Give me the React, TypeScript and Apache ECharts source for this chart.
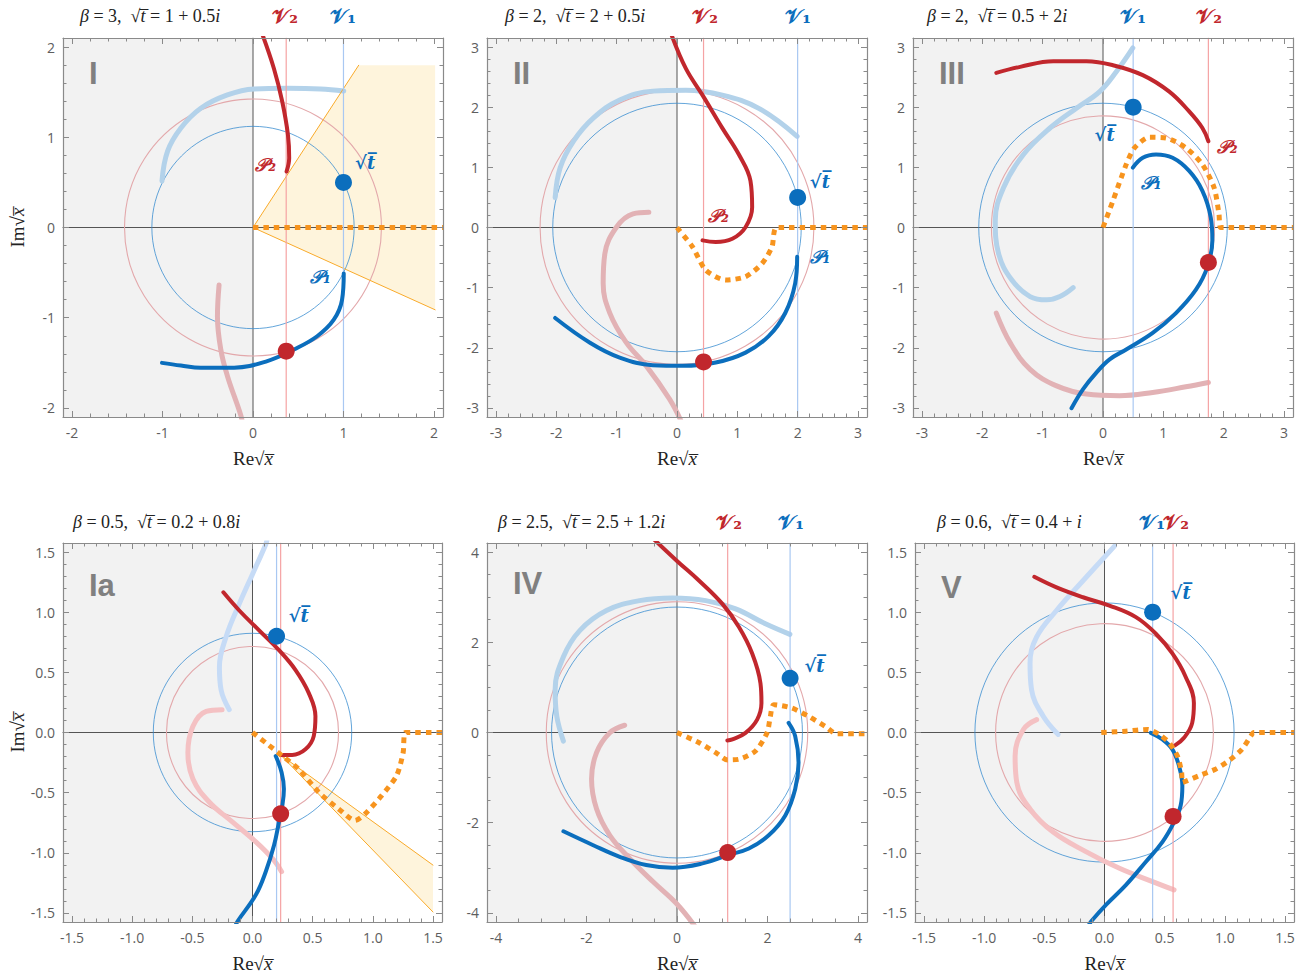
import React, { useEffect, useRef } from "react";
import * as echarts from "echarts";

// ---------------- Panel I ----------------
const I_range = 2.1;
const I_sqrtT = [1, 0.5];
const I_v1 = 1;
const I_v2 = 0.367;
const I_redDot = [0.367, -1.37];
const I_blueR = 1.118;
const I_redR = 1.42;
const I_P2 = [[0.1, 2.15], [0.231, 1.762], [0.323, 1.396], [0.386, 1.029], [0.4, 0.77], [0.371, 0.62]];
const I_P1 = [[1.003, -0.509], [0.984, -0.802], [0.893, -1.022], [0.709, -1.205], [0.452, -1.352], [0.158, -1.48], [-0.209, -1.553], [-0.577, -1.555], [-0.797, -1.53], [-1.006, -1.5]];
const I_fadeBlue = [[-1.006, 0.516], [-0.944, 0.846], [-0.797, 1.103], [-0.577, 1.322], [-0.283, 1.469], [0.011, 1.535], [0.378, 1.542], [0.746, 1.535], [1.003, 1.513]];
const I_fadeRed = [[-0.375, -0.637], [-0.393, -0.985], [-0.356, -1.352], [-0.283, -1.645], [-0.136, -2.077], [-0.11, -2.2]];
const I_orange = [[0, 0], [2.1, 0]];
const I_wedge = [[0, 0], [1.168, 1.798], [2.013, 1.798], [2.013, -0.912]];

// ---------------- Panel II ----------------
const II_range = 3.15;
const II_sqrtT = [2, 0.5];
const II_v1 = 2;
const II_v2 = 0.44;
const II_redDot = [0.44, -2.234];
const II_blueR = 2.06;
const II_redR = 2.27;
const II_P2 = [[-0.09, 3.2], [0.148, 2.64], [0.423, 2.2], [0.752, 1.652], [1.026, 1.213], [1.218, 0.774], [1.246, 0.335], [1.136, 0.005], [0.917, -0.187], [0.642, -0.241], [0.423, -0.214]];
const II_P1 = [[1.992, -0.488], [1.959, -0.928], [1.795, -1.421], [1.52, -1.806], [1.136, -2.08], [0.642, -2.245], [0.093, -2.3], [-0.401, -2.289], [-0.95, -2.162], [-1.443, -1.915], [-2.02, -1.504]];
const II_fadeBlue = [[-2.02, 0.499], [-1.937, 0.993], [-1.718, 1.432], [-1.389, 1.817], [-0.95, 2.119], [-0.401, 2.267], [0.148, 2.283], [0.752, 2.201], [1.356, 1.981], [1.992, 1.515]];
const II_fadeRed = [[-0.467, 0.252], [-0.73, 0.225], [-1.004, 0.005], [-1.196, -0.434], [-1.224, -0.928], [-1.114, -1.422], [-0.84, -1.915], [-0.51, -2.3], [-0.126, -2.849], [0.06, -3.2]];
const II_orange = [[0, 0], [0.258, -0.324], [0.477, -0.708], [0.807, -0.873], [1.136, -0.818], [1.411, -0.598], [1.575, -0.324], [1.658, 0], [3.15, 0]];

// ---------------- Panel III ----------------
const III_range = 3.15;
const III_sqrtT = [0.5, 2];
const III_v1 = 0.5;
const III_v2 = 1.747;
const III_redDot = [1.747, -0.582];
const III_blueR = 2.06;
const III_redR = 1.85;
const III_P2 = [[-1.769, 2.571], [-1.374, 2.67], [-0.824, 2.764], [-0.275, 2.764], [0.165, 2.698], [0.659, 2.533], [1.099, 2.258], [1.429, 1.929], [1.648, 1.654], [1.747, 1.434]];
const III_P1 = [[0.495, 0.995], [0.659, 1.159], [0.879, 1.214], [1.154, 1.159], [1.429, 0.94], [1.648, 0.61], [1.786, 0.17], [1.813, -0.214], [1.731, -0.654], [1.538, -1.038], [1.209, -1.423], [0.824, -1.753], [0.385, -2.027], [0.11, -2.192], [-0.11, -2.412], [-0.33, -2.687], [-0.522, -3.005]];
const III_fadeBlue = [[0.495, 2.984], [0.22, 2.588], [-0.055, 2.258], [-0.44, 1.984], [-0.879, 1.654], [-1.319, 1.214], [-1.648, 0.665], [-1.786, 0.115], [-1.731, -0.434], [-1.511, -0.874], [-1.209, -1.148], [-0.934, -1.203], [-0.714, -1.148], [-0.495, -1.0]];
const III_fadeRed = [[-1.769, -1.423], [-1.538, -1.918], [-1.209, -2.357], [-0.769, -2.632], [-0.275, -2.769], [0.275, -2.797], [0.824, -2.742], [1.374, -2.648], [1.747, -2.577]];
const III_orange = [[0, 0], [0.165, 0.445], [0.385, 1.049], [0.522, 1.324], [0.769, 1.5], [1.044, 1.489], [1.374, 1.324], [1.648, 1.049], [1.841, 0.665], [1.923, 0.225], [1.951, 0], [3.15, 0]];

// ---------------- Panel Ia ----------------
const Ia_range = 1.575;
const Ia_sqrtT = [0.2, 0.8];
const Ia_v1 = 0.2;
const Ia_v2 = 0.234;
const Ia_redDot = [0.234, -0.676];
const Ia_blueR = 0.8246;
const Ia_redR = 0.715;
const Ia_P2 = [[-0.242, 1.165], [-0.11, 1.014], [0.055, 0.849], [0.22, 0.684], [0.358, 0.519], [0.468, 0.327], [0.523, 0.135], [0.509, -0.03], [0.44, -0.14], [0.33, -0.187], [0.234, -0.187]];
const Ia_P1 = [[0.193, -0.195], [0.242, -0.332], [0.261, -0.47], [0.248, -0.607], [0.22, -0.745], [0.179, -0.937], [0.11, -1.157], [0.028, -1.349], [-0.124, -1.569], [-0.14, -1.6]];
const Ia_fadeBlue = [[-0.193, 0.19], [-0.261, 0.354], [-0.275, 0.547], [-0.22, 0.794], [-0.11, 1.069], [0, 1.316], [0.11, 1.563], [0.12, 1.6]];
const Ia_fadeRed = [[-0.253, 0.19], [-0.385, 0.176], [-0.495, 0.052], [-0.537, -0.168], [-0.495, -0.387], [-0.358, -0.58], [-0.165, -0.745], [0.028, -0.909], [0.165, -1.047], [0.242, -1.157]];
const Ia_orange = [[0, 0], [0.11, -0.085], [0.248, -0.195], [0.385, -0.305], [0.551, -0.497], [0.716, -0.635], [0.853, -0.731], [0.936, -0.676], [1.073, -0.525], [1.197, -0.36], [1.252, -0.168], [1.272, 0], [1.575, 0]];
const Ia_wedge = [[0.234, -0.187], [1.5, -1.102], [1.5, -1.492]];

// ---------------- Panel IV ----------------
const IV_range = 4.2;
const IV_sqrtT = [2.5, 1.2];
const IV_v1 = 2.5;
const IV_v2 = 1.12;
const IV_redDot = [1.12, -2.66];
const IV_blueR = 2.773;
const IV_redR = 2.89;
const IV_P2 = [[-0.55, 4.32], [0, 3.802], [0.49, 3.363], [1.003, 2.85], [1.369, 2.337], [1.662, 1.751], [1.845, 1.092], [1.867, 0.652], [1.772, 0.286], [1.515, -0.007], [1.223, -0.154], [1.113, -0.176]];
const IV_P1 = [[2.467, 0.212], [2.613, -0.081], [2.687, -0.667], [2.613, -1.253], [2.394, -1.839], [2.028, -2.278], [1.589, -2.571], [1.12, -2.718], [0.564, -2.901], [-0.095, -2.996], [-0.681, -2.938], [-1.266, -2.754], [-1.852, -2.498], [-2.511, -2.19]];
const IV_fadeBlue = [[-2.511, -0.19], [-2.657, 0.359], [-2.694, 0.945], [-2.511, 1.678], [-2.145, 2.264], [-1.559, 2.703], [-0.827, 2.923], [-0.095, 2.982], [0.637, 2.923], [1.296, 2.74], [1.955, 2.41], [2.496, 2.176]];
const IV_fadeRed = [[-1.157, 0.161], [-1.486, -0.007], [-1.779, -0.447], [-1.889, -1.033], [-1.779, -1.692], [-1.486, -2.278], [-1.047, -2.791], [-0.534, -3.304], [-0.022, -3.78], [0.4, -4.3]];
const IV_orange = [[0, 0], [0.49, -0.227], [0.857, -0.447], [1.12, -0.608], [1.369, -0.593], [1.735, -0.41], [1.991, -0.007], [2.064, 0.359], [2.138, 0.615], [2.54, 0.542], [2.906, 0.359], [3.272, 0.139], [3.529, -0.029], [4.2, -0.029]];

// ---------------- Panel V ----------------
const V_range = 1.575;
const V_sqrtT = [0.4, 1.0];
const V_v1 = 0.4;
const V_v2 = 0.57;
const V_redDot = [0.57, -0.698];
const V_blueR = 1.077;
const V_redR = 0.905;
const V_P2 = [[-0.584, 1.294], [-0.399, 1.206], [-0.179, 1.124], [0.041, 1.055], [0.261, 0.959], [0.427, 0.821], [0.564, 0.657], [0.674, 0.464], [0.743, 0.245], [0.729, 0.08], [0.661, -0.044], [0.586, -0.107]];
const V_P1 = [[0.385, -0.003], [0.482, -0.058], [0.564, -0.14], [0.619, -0.277], [0.647, -0.442], [0.633, -0.607], [0.578, -0.745], [0.482, -0.909], [0.344, -1.074], [0.179, -1.266], [0.014, -1.431], [-0.11, -1.569], [-0.13, -1.6]];
const V_fadeBlue = [[-0.385, -0.016], [-0.509, 0.135], [-0.606, 0.354], [-0.619, 0.574], [-0.564, 0.794], [-0.399, 1.014], [-0.179, 1.261], [0.083, 1.549]];
const V_fadeRed = [[-0.564, 0.107], [-0.674, 0.025], [-0.743, -0.195], [-0.729, -0.415], [-0.619, -0.635], [-0.427, -0.827], [-0.151, -0.992], [0.124, -1.129], [0.399, -1.239], [0.578, -1.308]];
const V_orange = [[-0.027, 0], [0.179, 0.011], [0.358, 0.025], [0.454, -0.016], [0.537, -0.085], [0.606, -0.195], [0.641, -0.332], [0.647, -0.415], [0.784, -0.36], [0.922, -0.305], [1.032, -0.236], [1.142, -0.14], [1.225, -0.016], [1.239, 0], [1.575, 0]];

// ---------------- styling ----------------
const RED = "#c1272d";
const BLUE = "#0b6ebd";
const FADE_BLUE = "#b3d2ea";
const FADE_BLUE_L = "#c6dbf6";
const FADE_RED = "#e2b2b5";
const FADE_RED_L = "#f4c1c3";
const CIRC_RED = "#e3a8ab";
const CIRC_BLUE = "#3b8ed0";
const V1C = "#a9c8f2";
const V2C = "#f5a3a4";
const ORANGE = "#f7941e";
const WEDGE_FILL = "#fef4dc";
const WEDGE_LINE = "#f9aa2a";
const BG = "#f2f2f2";
const FRAME = "#8a8a8a";
const SERIF = "'Liberation Serif', 'DejaVu Serif', serif";
const SANS = "'Open Sans', 'DejaVu Sans', sans-serif";
const SCRIPT = "'DejaVu Serif', 'Liberation Serif', serif";

const ROW1 = 38;
const ROW2 = 543;

const panels: any[] = [
  {
    roman: "I", range: I_range, minor: 5, dec: 0, grid: { left: 63, top: ROW1, width: 380, height: 379 },
    blueR: I_blueR, redR: I_redR, sqrtT: I_sqrtT, v1: I_v1, v2: I_v2, redDot: I_redDot,
    P1: I_P1, P2: I_P2, fadeBlue: I_fadeBlue, fadeRed: I_fadeRed, orange: I_orange, wedge: I_wedge, light: false,
    labels: [
      { t: "√t̅", p: [1.24, 0.72], c: BLUE },
      { t: "𝒫₂", p: [0.14, 0.7], c: RED },
      { t: "𝒫₁", p: [0.746, -0.546], c: BLUE },
    ],
    title: "{i|β} = 3,  √{i|t̅} = 1 + 0.5{i|i}", titleX: 80, titleY: 16,
    vLabels: [{ t: "𝒱₂", x: 285, c: RED }, { t: "𝒱₁", x: 343, c: BLUE }], yName: true, romanY: 73,
  },
  {
    roman: "II", range: II_range, minor: 5, dec: 0, grid: { left: 487, top: ROW1, width: 380, height: 379 },
    blueR: II_blueR, redR: II_redR, sqrtT: II_sqrtT, v1: II_v1, v2: II_v2, redDot: II_redDot,
    P1: II_P1, P2: II_P2, fadeBlue: II_fadeBlue, fadeRed: II_fadeRed, orange: II_orange, wedge: null, light: false,
    labels: [
      { t: "√t̅", p: [2.37, 0.77], c: BLUE },
      { t: "𝒫₂", p: [0.686, 0.198], c: RED },
      { t: "𝒫₁", p: [2.37, -0.49], c: BLUE },
    ],
    title: "{i|β} = 2,  √{i|t̅} = 2 + 0.5{i|i}", titleX: 505, titleY: 16,
    vLabels: [{ t: "𝒱₂", x: 705, c: RED }, { t: "𝒱₁", x: 798, c: BLUE }], yName: false, romanY: 73,
  },
  {
    roman: "III", range: III_range, minor: 5, dec: 0, grid: { left: 913, top: ROW1, width: 380, height: 379 },
    blueR: III_blueR, redR: III_redR, sqrtT: III_sqrtT, v1: III_v1, v2: III_v2, redDot: III_redDot,
    P1: III_P1, P2: III_P2, fadeBlue: III_fadeBlue, fadeRed: III_fadeRed, orange: III_orange, wedge: null, light: false,
    labels: [
      { t: "√t̅", p: [0.027, 1.544], c: BLUE },
      { t: "𝒫₂", p: [2.06, 1.35], c: RED },
      { t: "𝒫₁", p: [0.797, 0.747], c: BLUE },
    ],
    title: "{i|β} = 2,  √{i|t̅} = 0.5 + 2{i|i}", titleX: 927, titleY: 16,
    vLabels: [{ t: "𝒱₁", x: 1133, c: BLUE }, { t: "𝒱₂", x: 1209, c: RED }], yName: false, romanY: 73,
  },
  {
    roman: "Ia", range: Ia_range, minor: 5, dec: 1, grid: { left: 63, top: ROW2, width: 379, height: 379 },
    blueR: Ia_blueR, redR: Ia_redR, sqrtT: Ia_sqrtT, v1: Ia_v1, v2: Ia_v2, redDot: Ia_redDot,
    P1: Ia_P1, P2: Ia_P2, fadeBlue: Ia_fadeBlue, fadeRed: Ia_fadeRed, orange: Ia_orange, wedge: Ia_wedge, light: true,
    labels: [{ t: "√t̅", p: [0.385, 0.972], c: BLUE }],
    title: "{i|β} = 0.5,  √{i|t̅} = 0.2 + 0.8{i|i}", titleX: 73, titleY: 522,
    vLabels: [], yName: true, romanY: 585,
  },
  {
    roman: "IV", range: IV_range, minor: 4, dec: 0, grid: { left: 487, top: ROW2, width: 380, height: 379 },
    blueR: IV_blueR, redR: IV_redR, sqrtT: IV_sqrtT, v1: IV_v1, v2: IV_v2, redDot: IV_redDot,
    P1: IV_P1, P2: IV_P2, fadeBlue: IV_fadeBlue, fadeRed: IV_fadeRed, orange: IV_orange, wedge: null, light: false,
    labels: [{ t: "√t̅", p: [3.04, 1.49], c: BLUE }],
    title: "{i|β} = 2.5,  √{i|t̅} = 2.5 + 1.2{i|i}", titleX: 498, titleY: 522,
    vLabels: [{ t: "𝒱₂", x: 729, c: RED }, { t: "𝒱₁", x: 791, c: BLUE }], yName: false, romanY: 583,
  },
  {
    roman: "V", range: V_range, minor: 5, dec: 1, grid: { left: 915, top: ROW2, width: 379, height: 379 },
    blueR: V_blueR, redR: V_redR, sqrtT: V_sqrtT, v1: V_v1, v2: V_v2, redDot: V_redDot,
    P1: V_P1, P2: V_P2, fadeBlue: V_fadeBlue, fadeRed: V_fadeRed, orange: V_orange, wedge: null, light: true,
    labels: [{ t: "√t̅", p: [0.633, 1.165], c: BLUE }],
    title: "{i|β} = 0.6,  √{i|t̅} = 0.4 + {i|i}", titleX: 937, titleY: 522,
    vLabels: [{ t: "𝒱₁", x: 1152, c: BLUE }, { t: "𝒱₂", x: 1176, c: RED }], yName: false, romanY: 587,
  },
];

function axisBase(p: any, gi: number, isX: boolean, main: boolean, showName: boolean) {
  const R = p.range;
  const a: any = {
    type: "value",
    gridIndex: gi,
    min: -R,
    max: R,
    z: 20,
    position: isX ? (main ? "bottom" : "top") : main ? "left" : "right",
    axisLine: { show: true, onZero: false, lineStyle: { color: FRAME, width: 1.2 } },
    axisTick: { show: true, inside: true, length: 6, lineStyle: { color: FRAME, width: 1 } },
    minorTick: { show: true, splitNumber: p.minor, length: 3.5, lineStyle: { color: FRAME, width: 1 } },
    splitLine: { show: false },
    minorSplitLine: { show: false },
    axisLabel: {
      show: main,
      color: "#5e5e5e",
      fontSize: 14,
      fontFamily: SANS,
      margin: 8,
      showMinLabel: false,
      showMaxLabel: false,
      formatter: (v: number) => (p.dec ? v.toFixed(p.dec) : String(Math.round(v * 1000) / 1000)),
    },
  };
  if (main && showName) {
    a.name = isX ? "Re√{i|x̅}" : "Im√{i|x̅}";
    a.nameLocation = "middle";
    a.nameGap = isX ? 32 : 36;
    a.nameTextStyle = {
      fontFamily: SERIF,
      fontSize: 19,
      color: "#222",
      rich: { i: { fontFamily: SERIF, fontSize: 19, fontStyle: "italic", color: "#222" } },
    };
  }
  return a;
}

function buildOption() {
  const grid: any[] = [];
  const xAxis: any[] = [];
  const yAxis: any[] = [];
  const series: any[] = [];
  const graphic: any[] = [];

  panels.forEach((p, gi) => {
    const R = p.range;
    grid.push({ ...p.grid, containLabel: false });
    xAxis.push(axisBase(p, gi, true, true, true));
    xAxis.push(axisBase(p, gi, true, false, false));
    yAxis.push(axisBase(p, gi, false, true, p.yName));
    yAxis.push(axisBase(p, gi, false, false, false));
    const ax = { xAxisIndex: gi * 2, yAxisIndex: gi * 2 };
    const lineS = (data: any[], color: string, width: number, z: number, smooth: any = 0.4, type: any = "solid") => ({
      type: "line",
      ...ax,
      data,
      z,
      smooth,
      showSymbol: false,
      symbol: "none",
      silent: true,
      clip: true,
      lineStyle: { color, width, type, cap: type === "solid" ? "round" : "butt", join: "round", opacity: 1 },
    });

    // gray left half plane
    series.push({
      type: "custom",
      ...ax,
      z: 1,
      silent: true,
      data: [[-R, -R, 0, R]],
      renderItem: (_: any, api: any) => {
        const a = api.coord([api.value(0), api.value(3)]);
        const b = api.coord([api.value(2), api.value(1)]);
        return { type: "rect", shape: { x: a[0], y: a[1], width: b[0] - a[0], height: b[1] - a[1] }, style: { fill: BG } };
      },
    });

    // orange wedge
    if (p.wedge) {
      const w = p.wedge;
      series.push({
        type: "custom",
        ...ax,
        z: 2,
        silent: true,
        data: [[w[0][0], w[0][1]]],
        renderItem: (_: any, api: any) => ({
          type: "polygon",
          shape: { points: w.map((q: number[]) => api.coord(q)) },
          style: { fill: WEDGE_FILL },
        }),
      });
      series.push(lineS([w[1], w[0], w[w.length - 1]], WEDGE_LINE, 1, 6, false));
    }

    // zero axes
    series.push(lineS([[0, -R], [0, R]], "#555", 1, 3, false));
    series.push(lineS([[-R, 0], [R, 0]], "#555", 1, 3, false));

    // circles
    const circ = (r: number, color: string, lw: number) => ({
      type: "custom",
      ...ax,
      z: 4,
      silent: true,
      data: [[0, 0, r]],
      renderItem: (_: any, api: any) => {
        const c = api.coord([api.value(0), api.value(1)]);
        const e = api.coord([api.value(0) + api.value(2), api.value(1)]);
        return { type: "circle", shape: { cx: c[0], cy: c[1], r: e[0] - c[0] }, style: { fill: "none", stroke: color, lineWidth: lw } };
      },
    });
    series.push(circ(p.redR, CIRC_RED, 1.1));
    series.push(circ(p.blueR, CIRC_BLUE, 0.8));

    // faded branches
    series.push(lineS(p.fadeRed, p.light ? FADE_RED_L : FADE_RED, 5, 5));
    series.push(lineS(p.fadeBlue, p.light ? FADE_BLUE_L : FADE_BLUE, 5, 5));

    // vertical lines
    series.push(lineS([[p.v1, -R], [p.v1, R]], V1C, 1.2, 6, false));
    series.push(lineS([[p.v2, -R], [p.v2, R]], V2C, 1.2, 6, false));

    // thick paths
    series.push(lineS(p.P1, BLUE, 4, 7));
    series.push(lineS(p.P2, RED, 4, 7));

    // orange dashed contour
    series.push(lineS(p.orange, ORANGE, 5, 8, 0.25, [5.5, 5]));

    // dots
    series.push({ type: "scatter", ...ax, z: 9, silent: true, symbolSize: 17, itemStyle: { color: BLUE, opacity: 1 }, data: [p.sqrtT] });
    series.push({ type: "scatter", ...ax, z: 9, silent: true, symbolSize: 17, itemStyle: { color: RED, opacity: 1 }, data: [p.redDot] });

    // in-plot labels
    p.labels.forEach((l: any) => {
      series.push({
        type: "custom",
        ...ax,
        z: 10,
        silent: true,
        clip: false,
        data: [l.p],
        renderItem: (_: any, api: any) => {
          const c = api.coord([api.value(0), api.value(1)]);
          return {
            type: "text",
            x: c[0],
            y: c[1],
            style: {
              text: l.t,
              fill: l.c,
              fontFamily: SCRIPT,
              fontSize: 18,
              fontWeight: "bold",
              fontStyle: "italic",
              align: "center",
              verticalAlign: "middle",
            },
          };
        },
      });
    });

    // roman numeral
    graphic.push({
      type: "text",
      x: p.grid.left + 26,
      y: p.romanY,
      z: 30,
      style: { text: p.roman, fill: "#808080", fontFamily: "'Liberation Sans', Arial, sans-serif", fontWeight: "bold", fontSize: 31, verticalAlign: "middle" },
    });

    // title
    graphic.push({
      type: "text",
      x: p.titleX,
      y: p.titleY,
      style: {
        text: p.title,
        fill: "#222",
        fontFamily: SERIF,
        fontSize: 18,
        verticalAlign: "middle",
        rich: { i: { fontFamily: SERIF, fontSize: 18, fontStyle: "italic", fill: "#222" } },
      },
    });

    p.vLabels.forEach((v: any) => {
      graphic.push({
        type: "text",
        x: v.x,
        y: p.titleY,
        style: { text: v.t, fill: v.c, fontFamily: SCRIPT, fontSize: 20, fontWeight: "bold", align: "center", verticalAlign: "middle" },
      });
    });
  });

  return { animation: false, backgroundColor: "#ffffff", grid, xAxis, yAxis, series, graphic };
}

export default function App() {
  const ref = useRef<HTMLDivElement>(null);
  useEffect(() => {
    document.body.style.margin = "0";
    const chart = echarts.init(ref.current!, undefined, { renderer: "svg" });
    chart.setOption(buildOption() as any);
    return () => chart.dispose();
  }, []);
  return <div ref={ref} style={{ width: 1313, height: 980 }} />;
}
